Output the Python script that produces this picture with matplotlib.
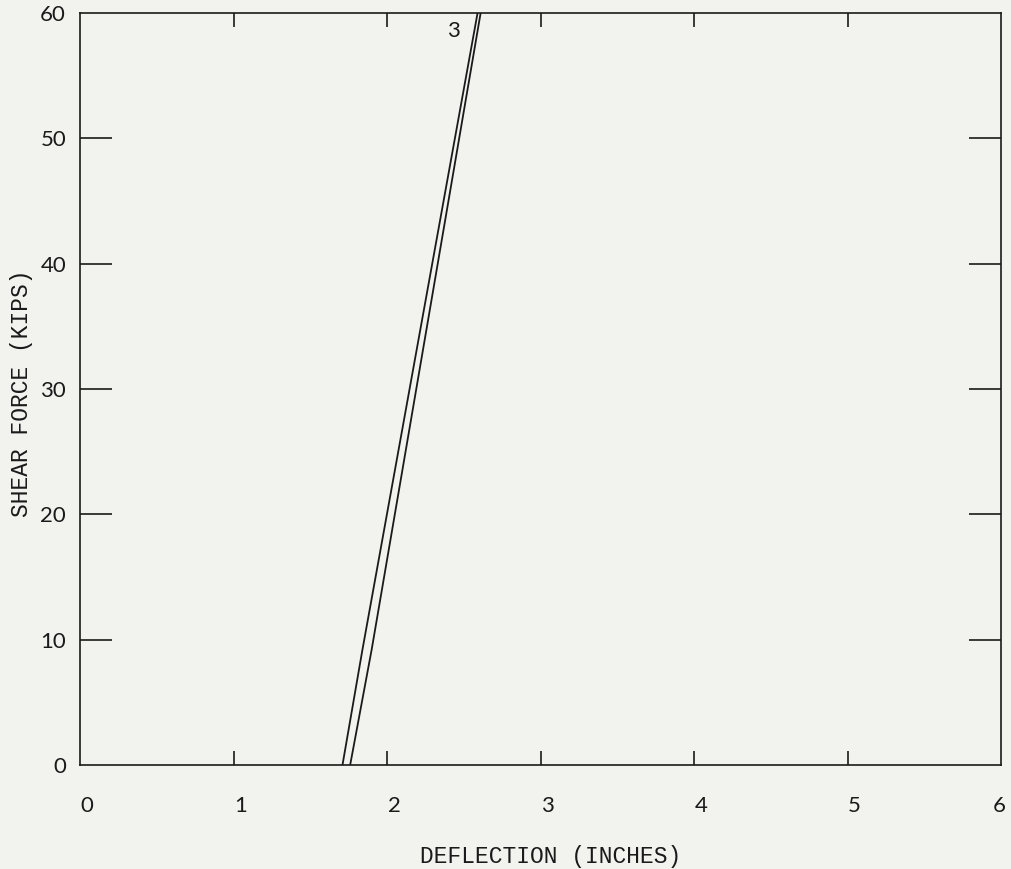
import matplotlib
matplotlib.use("Agg")
import matplotlib.pyplot as plt
import matplotlib.transforms as mtransforms

# Data
curve_a_x = [1.71, 1.84, 2.59]
curve_a_y = [0.0, 9.2, 60.0]
curve_b_x = [1.76, 1.90, 2.61]
curve_b_y = [0.0, 9.2, 60.0]
curve_label = "3"
curve_label_pos = (2.43, 58.6)

x_ticks = [0, 1, 2, 3, 4, 5, 6]
y_ticks = [0, 10, 20, 30, 40, 50, 60]
x_title = "DEFLECTION (INCHES)"
y_title = "SHEAR FORCE (KIPS)"

bg = "#f2f3ee"
ink = "#1a1a1a"

fig = plt.figure(figsize=(10.11, 8.69), dpi=100, facecolor=bg)
ax = fig.add_axes([80/1011, 1-765/869, 921/1011, 752/869], facecolor=bg)

ax.plot(curve_a_x, curve_a_y, color=ink, lw=1.3)
ax.plot(curve_b_x, curve_b_y, color=ink, lw=1.3)
ax.text(*curve_label_pos, curve_label, fontsize=16, family="Lato",
        ha="center", va="center", color=ink)

ax.set_xlim(0, 6)
ax.set_ylim(0, 60)
for s in ax.spines.values():
    s.set_linewidth(1.2)
    s.set_color(ink)

ax.xaxis.remove_overlapping_locs = False
ax.yaxis.remove_overlapping_locs = False

# major ticks carry the labels only
ax.set_xticks(x_ticks)
ax.set_yticks(y_ticks)
ax.tick_params(axis="both", which="major", length=0, labelsize=16,
               colors=ink, pad=10)
ax.tick_params(axis="x", pad=22)
for lbl in ax.get_xticklabels() + ax.get_yticklabels():
    lbl.set_family("Lato")
xlabels = ax.get_xticklabels()
for i, lbl in enumerate(xlabels):
    dx = 7 if i < len(xlabels) - 1 else -2
    off = mtransforms.ScaledTranslation(dx/100, 0, fig.dpi_scale_trans)
    lbl.set_transform(lbl.get_transform() + off)

# inward tick marks drawn as minor ticks (interior only)
ax.set_xticks(x_ticks[1:-1], minor=True)
ax.set_yticks(y_ticks[1:-1], minor=True)
ax.tick_params(axis="x", which="minor", direction="in", length=10, width=1.2,
               top=True, bottom=True, colors=ink)
ax.tick_params(axis="y", which="minor", direction="in", length=23, width=1.2,
               left=True, right=True, colors=ink)

fig.text(551/1011, 1-857/869, x_title, family="Liberation Mono", fontsize=16.5,
         ha="center", va="center", color=ink)
fig.text(22/1011, 1-393/869, y_title, family="Liberation Mono", fontsize=16.5,
         ha="center", va="center", rotation=90, color=ink)

fig.savefig("out.png", dpi=100, facecolor=bg)
